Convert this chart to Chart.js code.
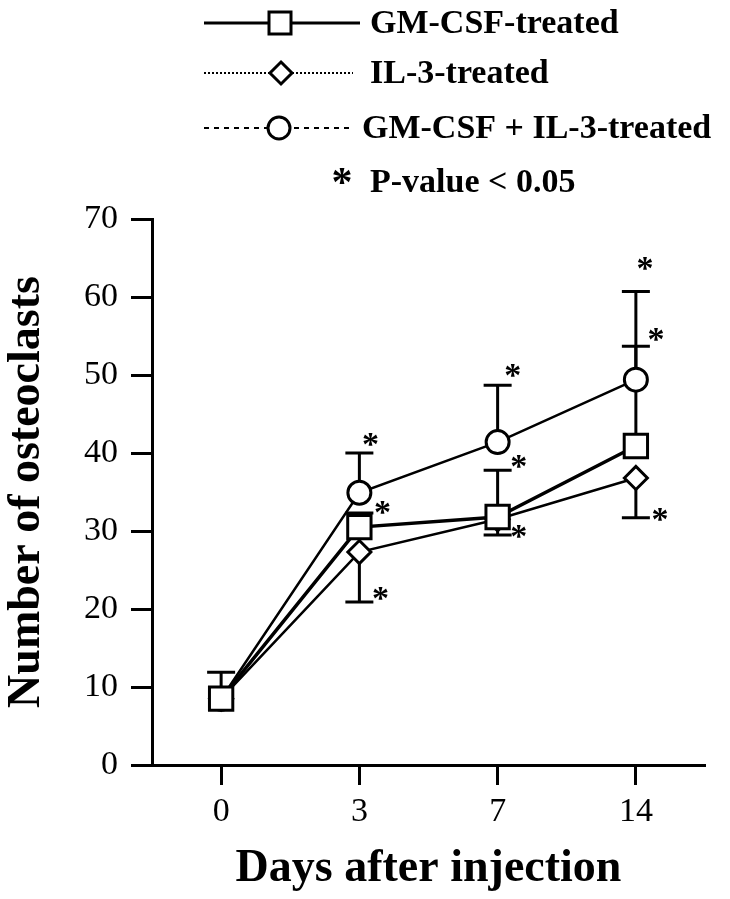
<!DOCTYPE html>
<html>
<head>
<meta charset="utf-8">
<script src="https://cdn.jsdelivr.net/npm/chart.js@4.4.1/dist/chart.umd.min.js"></script>
<style>
  html, body { margin: 0; padding: 0; background: #fff; }
  #wrap { width: 730px; height: 899px; position: relative; }
</style>
</head>
<body>
<div id="wrap"><canvas id="c" width="730" height="899"></canvas></div>
<script>
// ---- data ----
const days = ['0', '3', '7', '14'];
const gmcsf = [8.5, 30.5, 31.8, 40.9];
const il3 = [8.5, 27.3, 31.5, 36.8];
const combo = [8.5, 34.9, 41.4, 49.4];
const gmcsfErr = [3.4, 1.8, 6.0, 12.8];   // drawn upward
const il3Err = [0, 6.4, 2.0, 5.1];        // drawn downward
const comboErr = [0, 5.1, 7.3, 11.3];     // drawn upward
const yTicks = [0, 10, 20, 30, 40, 50, 60, 70];
const starDay = [1, 1, 1, 2, 2, 2, 3, 3, 3];
const starValue = [41.9, 33.2, 22.1, 50.8, 39.1, 30.1, 64.4, 55.4, 32.3];
const legendLabels = ['GM-CSF-treated', 'IL-3-treated', 'GM-CSF + IL-3-treated'];
const pNote = 'P-value < 0.05';

const SERIF = '"Liberation Serif", "Times New Roman", serif';

// error bars
const errorBarPlugin = {
  id: 'errorBars',
  beforeDatasetsDraw(chart) {
    const ctx = chart.ctx;
    const xs = chart.scales.x, ys = chart.scales.y;
    const sets = [
      { v: gmcsf, e: gmcsfErr, dir: 1 },
      { v: combo, e: comboErr, dir: 1 },
      { v: il3, e: il3Err, dir: -1 }
    ];
    ctx.save();
    ctx.strokeStyle = '#000';
    ctx.lineWidth = 3;
    ctx.lineCap = 'butt';
    sets.forEach(s => {
      s.v.forEach((val, i) => {
        if (!s.e[i]) return;
        const x = xs.getPixelForValue(i);
        const y0 = ys.getPixelForValue(val);
        const y1 = ys.getPixelForValue(val + s.dir * s.e[i]);
        ctx.beginPath();
        ctx.moveTo(x, y0);
        ctx.lineTo(x, y1);
        ctx.moveTo(x - 14, y1);
        ctx.lineTo(x + 14, y1);
        ctx.stroke();
      });
    });
    ctx.restore();
  }
};

// significance stars
const starPlugin = {
  id: 'stars',
  afterDatasetsDraw(chart, args, opts) {
    const ctx = chart.ctx;
    const xs = chart.scales.x, ys = chart.scales.y;
    ctx.save();
    ctx.fillStyle = '#000';
    ctx.font = 'bold 34px ' + SERIF;
    ctx.textAlign = 'center';
    ctx.textBaseline = 'middle';
    starValue.forEach((v, k) => {
      const x = xs.getPixelForValue(starDay[k]) + opts.dx[k];
      const y = ys.getPixelForValue(v) + 8;
      ctx.fillText('*', x, y);
    });
    ctx.restore();
  }
};

// custom legend
const legendPlugin = {
  id: 'customLegend',
  afterDraw(chart) {
    const ctx = chart.ctx;
    ctx.save();
    ctx.strokeStyle = '#000';
    ctx.fillStyle = '#000';
    const rows = [23, 73, 128];
    // row 1: solid line + square
    ctx.lineWidth = 3;
    ctx.setLineDash([]);
    ctx.beginPath(); ctx.moveTo(204, rows[0]); ctx.lineTo(360, rows[0]); ctx.stroke();
    ctx.fillStyle = '#fff';
    ctx.fillRect(269, rows[0] - 11, 22, 22);
    ctx.strokeRect(269, rows[0] - 11, 22, 22);
    // row 2: dotted line + diamond
    ctx.lineWidth = 2;
    ctx.setLineDash([2, 2]);
    ctx.beginPath(); ctx.moveTo(204, rows[1]); ctx.lineTo(353, rows[1]); ctx.stroke();
    ctx.setLineDash([]);
    ctx.lineWidth = 3;
    ctx.beginPath();
    ctx.moveTo(281, rows[1] - 11); ctx.lineTo(292, rows[1]);
    ctx.lineTo(281, rows[1] + 11); ctx.lineTo(270, rows[1]); ctx.closePath();
    ctx.fill(); ctx.stroke();
    // row 3: dashed line + circle
    ctx.lineWidth = 2;
    ctx.setLineDash([5, 5]);
    ctx.beginPath(); ctx.moveTo(204, rows[2]); ctx.lineTo(349, rows[2]); ctx.stroke();
    ctx.setLineDash([]);
    ctx.lineWidth = 3;
    ctx.beginPath(); ctx.arc(279, rows[2], 11, 0, Math.PI * 2);
    ctx.fill(); ctx.stroke();
    // texts
    ctx.fillStyle = '#000';
    ctx.font = 'bold 34px ' + SERIF;
    ctx.textAlign = 'left';
    ctx.textBaseline = 'middle';
    ctx.fillText(legendLabels[0], 370, rows[0] + 1);
    ctx.fillText(legendLabels[1], 370, rows[1] + 1);
    ctx.fillText(legendLabels[2], 362, rows[2] + 1);
    ctx.fillText(pNote, 370, 183);
    ctx.font = 'bold 42px ' + SERIF;
    ctx.textAlign = 'center';
    ctx.fillText('*', 342, 185);
    ctx.restore();
  }
};

const lineDs = (data, width) => ({
  data, borderColor: '#000', borderWidth: width, pointRadius: 0,
  tension: 0, fill: false, order: 10
});
const markDs = (data, style, radius, order) => ({
  data, showLine: false, pointStyle: style, pointRadius: radius,
  pointBackgroundColor: '#fff', pointBorderColor: '#000', pointBorderWidth: 3,
  order
});

new Chart(document.getElementById('c'), {
  type: 'line',
  data: {
    labels: days,
    datasets: [
      lineDs(il3, 2.5),
      lineDs(combo, 2.5),
      lineDs(gmcsf, 3.5),
      markDs(il3, 'rectRot', 11.5, 3),
      markDs(combo, 'circle', 11.5, 2),
      markDs(gmcsf, 'rect', 16.5, 1)
    ]
  },
  plugins: [errorBarPlugin, starPlugin, legendPlugin],
  options: {
    responsive: false,
    animation: false,
    devicePixelRatio: 1,
    layout: { padding: { top: 219, right: 25, left: 0, bottom: 0 } },
    plugins: {
      legend: { display: false },
      tooltip: { enabled: false },
      stars: { dx: [11, 23, 21, 15, 21, 21, 9, 20, 24] }
    },
    scales: {
      x: {
        type: 'category',
        offset: true,
        grid: { display: true, drawOnChartArea: false, drawTicks: true, tickLength: 20, tickWidth: 3, tickColor: '#000', offset: false },
        border: { display: true, color: '#000', width: 3 },
        ticks: { color: '#000', font: { family: SERIF, size: 34 }, padding: 7, maxRotation: 0 },
        title: { display: true, text: 'Days after injection', color: '#000', font: { family: SERIF, size: 46, weight: 'bold' }, padding: { top: 0, bottom: 2 } },
        afterFit(s) { s.height = 134; }
      },
      y: {
        min: 0, max: 70,
        afterBuildTicks(s) { s.ticks = yTicks.map(v => ({ value: v })); },
        grid: { display: true, drawOnChartArea: false, drawTicks: true, tickLength: 21, tickWidth: 3, tickColor: '#000' },
        border: { display: true, color: '#000', width: 3 },
        ticks: { color: '#000', font: { family: SERIF, size: 34 }, padding: 13 },
        title: { display: true, text: 'Number of osteoclasts', color: '#000', font: { family: SERIF, size: 46, weight: 'bold' }, padding: { top: 0, bottom: 0 } },
        afterFit(s) { s.width = 152; }
      }
    }
  }
});
</script>
</body>
</html>
